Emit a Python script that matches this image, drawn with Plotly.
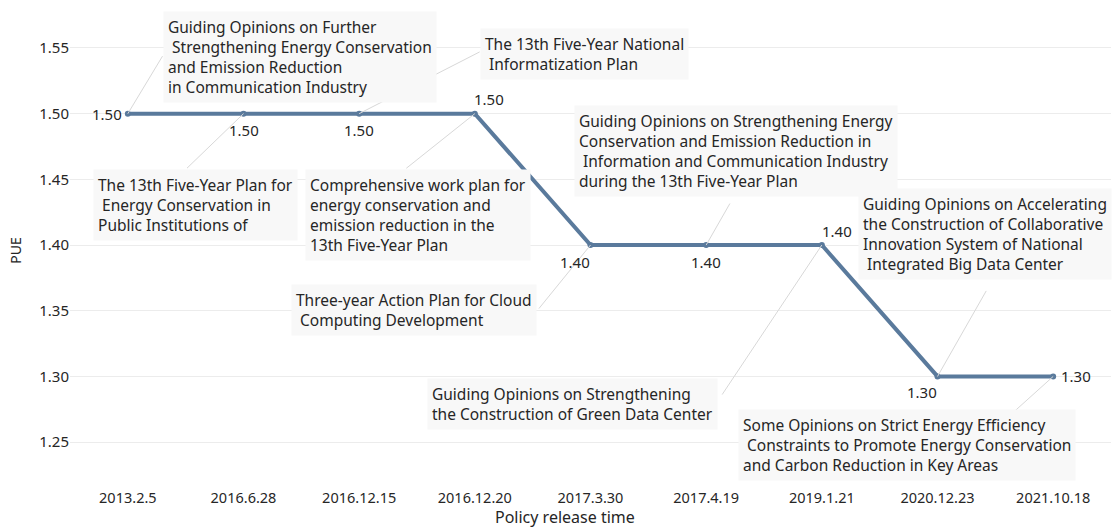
import plotly.graph_objects as go

# Policy release dates (x categories) and the PUE target each policy sets
release_dates = ["2013.2.5", "2016.6.28", "2016.12.15", "2016.12.20", "2017.3.30",
                 "2017.4.19", "2019.1.21", "2020.12.23", "2021.10.18"]
pue_values = [1.50, 1.50, 1.50, 1.50, 1.40, 1.40, 1.40, 1.30, 1.30]

policy_names = [
    "Guiding Opinions on Further<br> Strengthening Energy Conservation<br>and Emission Reduction<br>in Communication Industry",
    "The 13th Five-Year Plan for<br> Energy Conservation in<br>Public Institutions of",
    "The 13th Five-Year National<br> Informatization Plan",
    "Comprehensive work plan for<br>energy conservation and<br>emission reduction in the<br>13th Five-Year Plan",
    "Three-year Action Plan for Cloud<br> Computing Development",
    "Guiding Opinions on Strengthening Energy<br>Conservation and Emission Reduction in<br> Information and Communication Industry<br>during the 13th Five-Year Plan",
    "Guiding Opinions on Strengthening<br>the Construction of Green Data Center",
    "Guiding Opinions on Accelerating<br>the Construction of Collaborative<br>Innovation System of National<br> Integrated Big Data Center",
    "Some Opinions on Strict Energy Efficiency<br> Constraints to Promote Energy Conservation<br>and Carbon Reduction in Key Areas",
]

# Value-label placement around each point (pixels; +y is down)
value_label_offset = [(-4, 0), (0, 16), (0, 16), (14, -15), (-16, 17),
                      (0, 17), (15, -14), (-16, 16), (6, 0)]
value_label_anchor = ["right", "center", "center", "center", "center",
                      "center", "center", "center", "left"]

# Callout placement, in pixels relative to each point (+y is down):
# top-left corner of the note box, and the end of the leader line
note_box_offset = [(35, -103), (-151, 55), (121, -86), (-170, 55), (-300, 39),
                   (-132, -140), (-395, 133), (-80, -188), (-315, 33)]
leader_end_offset = [(35, -58), (-57, 55), (121, -62), (-69, 55), (-52, 64),
                     (24, -42), (-100, 150), (49, -86), (-40, 36)]

FONT = "Noto Sans, Open Sans, sans-serif"
LINE_COLOR = "#5a7a9c"
TEXT_COLOR = "#262626"

fig = go.Figure()
fig.add_trace(go.Scatter(
    x=release_dates, y=pue_values,
    mode="lines+markers",
    line=dict(color=LINE_COLOR, width=4),
    marker=dict(color=LINE_COLOR, size=6),
    hoverinfo="x+y", showlegend=False,
))

annotations = []
# thin leader lines from each point to its note
for d, v, (lx, ly) in zip(release_dates, pue_values, leader_end_offset):
    annotations.append(dict(
        x=d, y=v, xref="x", yref="y", text="", showarrow=True,
        ax=lx, ay=ly, axref="pixel", ayref="pixel",
        arrowhead=0, arrowwidth=1, arrowcolor="#d8d8d8", standoff=0, borderpad=0,
    ))
# the policy notes themselves
for d, v, name, (bx, by) in zip(release_dates, pue_values, policy_names, note_box_offset):
    annotations.append(dict(
        x=d, y=v, xref="x", yref="y", text=name, showarrow=False,
        xanchor="left", yanchor="top", xshift=bx, yshift=-by, align="left",
        bgcolor="#f8f8f8", borderpad=4,
        font=dict(family=FONT, size=15.5, color=TEXT_COLOR),
    ))
# PUE value labels at the points
for d, v, (dx, dy), anc in zip(release_dates, pue_values, value_label_offset, value_label_anchor):
    annotations.append(dict(
        x=d, y=v, xref="x", yref="y", text=f"{v:.2f}", showarrow=False,
        xanchor=anc, yanchor="middle", xshift=dx, yshift=-dy,
        font=dict(family=FONT, size=15, color=TEXT_COLOR),
    ))
# x-axis title
annotations.append(dict(
    x=0.4755, y=0, xref="paper", yref="paper", text="Policy release time",
    showarrow=False, xanchor="center", yanchor="middle", yshift=-34,
    font=dict(family=FONT, size=16, color=TEXT_COLOR),
))

fig.update_layout(
    width=1113, height=529,
    margin=dict(l=70, r=2, t=18, b=46),
    paper_bgcolor="white", plot_bgcolor="white",
    font=dict(family=FONT, color=TEXT_COLOR),
    annotations=annotations,
    xaxis=dict(
        type="category", range=[-0.5, 8.5], showgrid=False, zeroline=False, showline=False,
        tickfont=dict(size=14.5, color=TEXT_COLOR), ticklabelstandoff=4,
    ),
    yaxis=dict(
        range=[1.2189, 1.5728], tickvals=[1.25, 1.30, 1.35, 1.40, 1.45, 1.50, 1.55],
        tickformat=".2f", showgrid=True, gridcolor="#ececec", zeroline=False, showline=False,
        tickfont=dict(size=15, color=TEXT_COLOR),
        title=dict(text="PUE", font=dict(size=14, color=TEXT_COLOR), standoff=14),
    ),
)

fig.write_html("out.html")
